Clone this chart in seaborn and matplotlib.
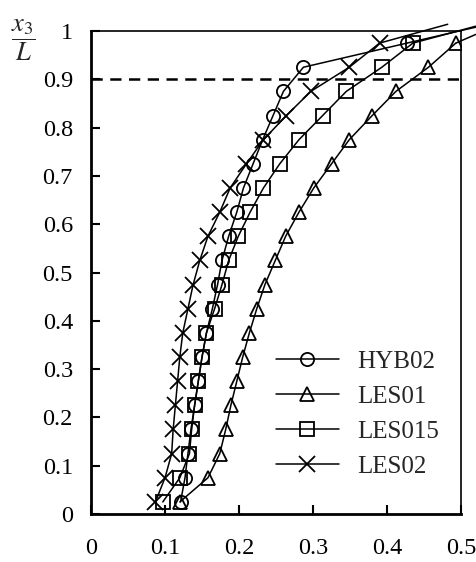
import numpy as np
import pandas as pd
import seaborn as sns
import matplotlib.pyplot as plt
from matplotlib.ticker import FuncFormatter

# =====================
# Data
# =====================
y_levels = [0.025, 0.075, 0.125, 0.175, 0.225, 0.275, 0.325, 0.375, 0.425, 0.475,
            0.525, 0.575, 0.625, 0.675, 0.725, 0.775, 0.825, 0.875, 0.925, 0.975]

hyb02 = [0.121, 0.127, 0.131, 0.135, 0.140, 0.145, 0.150, 0.156, 0.164, 0.171,
         0.177, 0.186, 0.197, 0.206, 0.219, 0.232, 0.246, 0.260, 0.287, 0.427]
les01 = [0.120, 0.158, 0.174, 0.182, 0.189, 0.197, 0.205, 0.214, 0.224, 0.235,
         0.249, 0.263, 0.281, 0.301, 0.325, 0.349, 0.380, 0.412, 0.456, 0.493]
les015 = [0.097, 0.120, 0.133, 0.136, 0.140, 0.145, 0.150, 0.156, 0.167, 0.177,
          0.186, 0.199, 0.215, 0.233, 0.255, 0.281, 0.313, 0.345, 0.393, 0.435]
les02 = [0.087, 0.100, 0.109, 0.111, 0.114, 0.117, 0.120, 0.124, 0.131, 0.138,
         0.147, 0.158, 0.174, 0.188, 0.210, 0.233, 0.264, 0.297, 0.349, 0.390]

# where each curve leaves the frame (no marker there)
exit_x = [0.52, 0.52, 0.52, 0.482]
exit_y = [1.008, 0.993, 1.010, 1.014]

labels = ["HYB02", "LES01", "LES015", "LES02"]
markers = ["o", "^", "s", "x"]

# =====================
# Style
# =====================
sns.set_style("ticks")
plt.rcParams["font.family"] = "serif"
plt.rcParams["font.serif"] = ["Liberation Serif", "Times New Roman", "DejaVu Serif"]
plt.rcParams["mathtext.fontset"] = "stix"

fig = plt.figure(figsize=(4.77, 5.62), dpi=100)
ax = fig.add_axes([0.1908, 0.0854, 0.9665 - 0.1908, 0.9448 - 0.0854])

series = [hyb02, les01, les015, les02]
for xs, lab, mk, ex, ey in zip(series, labels, markers, exit_x, exit_y):
    sns.lineplot(x=xs, y=y_levels, sort=False, estimator=None, ax=ax,
                 color="k", lw=1.1, marker=mk, markersize=9.5 if mk != "x" else 11.5,
                 markerfacecolor="none", markeredgecolor="k",
                 markeredgewidth=1.3, label=lab)
    # tail of the curve running out past the frame
    ax.plot([xs[-1], ex], [y_levels[-1], ey], color="k", lw=1.1, clip_on=False)

ax.axhline(0.9, color="k", lw=1.8, ls=(0, (4.5, 3)))

ax.set_xlim(0, 0.5)
ax.set_ylim(0, 1)
ax.set_xticks(np.arange(0, 0.51, 0.1))
ax.set_yticks(np.arange(0, 1.01, 0.1))
fmt = FuncFormatter(lambda v, p: "%g" % round(v, 2))
ax.xaxis.set_major_formatter(fmt)
ax.yaxis.set_major_formatter(fmt)
ax.tick_params(direction="in", length=6.5, width=1.5, labelsize=17.5,
               top=False, right=False, colors="k")
ax.tick_params(axis="x", pad=17)
ax.tick_params(axis="y", pad=13)

for side in ["left", "bottom"]:
    ax.spines[side].set_linewidth(2.0)
for side in ["top", "right"]:
    ax.spines[side].set_visible(True)
    ax.spines[side].set_linewidth(1.2)
for sp in ax.spines.values():
    sp.set_color("k")

ax.set_xlabel("")
ax.set_ylabel("")
fig.text(0.05, 0.929, r"$\dfrac{x_3}{L}$", fontsize=19, ha="center", va="center")

ax.legend(loc="upper left", bbox_to_anchor=(0.473, 0.36), frameon=False,
          fontsize=18, handlelength=2.5, handletextpad=0.76, labelspacing=0.5,
          borderaxespad=0.0)

fig.savefig("out.png", dpi=100)
